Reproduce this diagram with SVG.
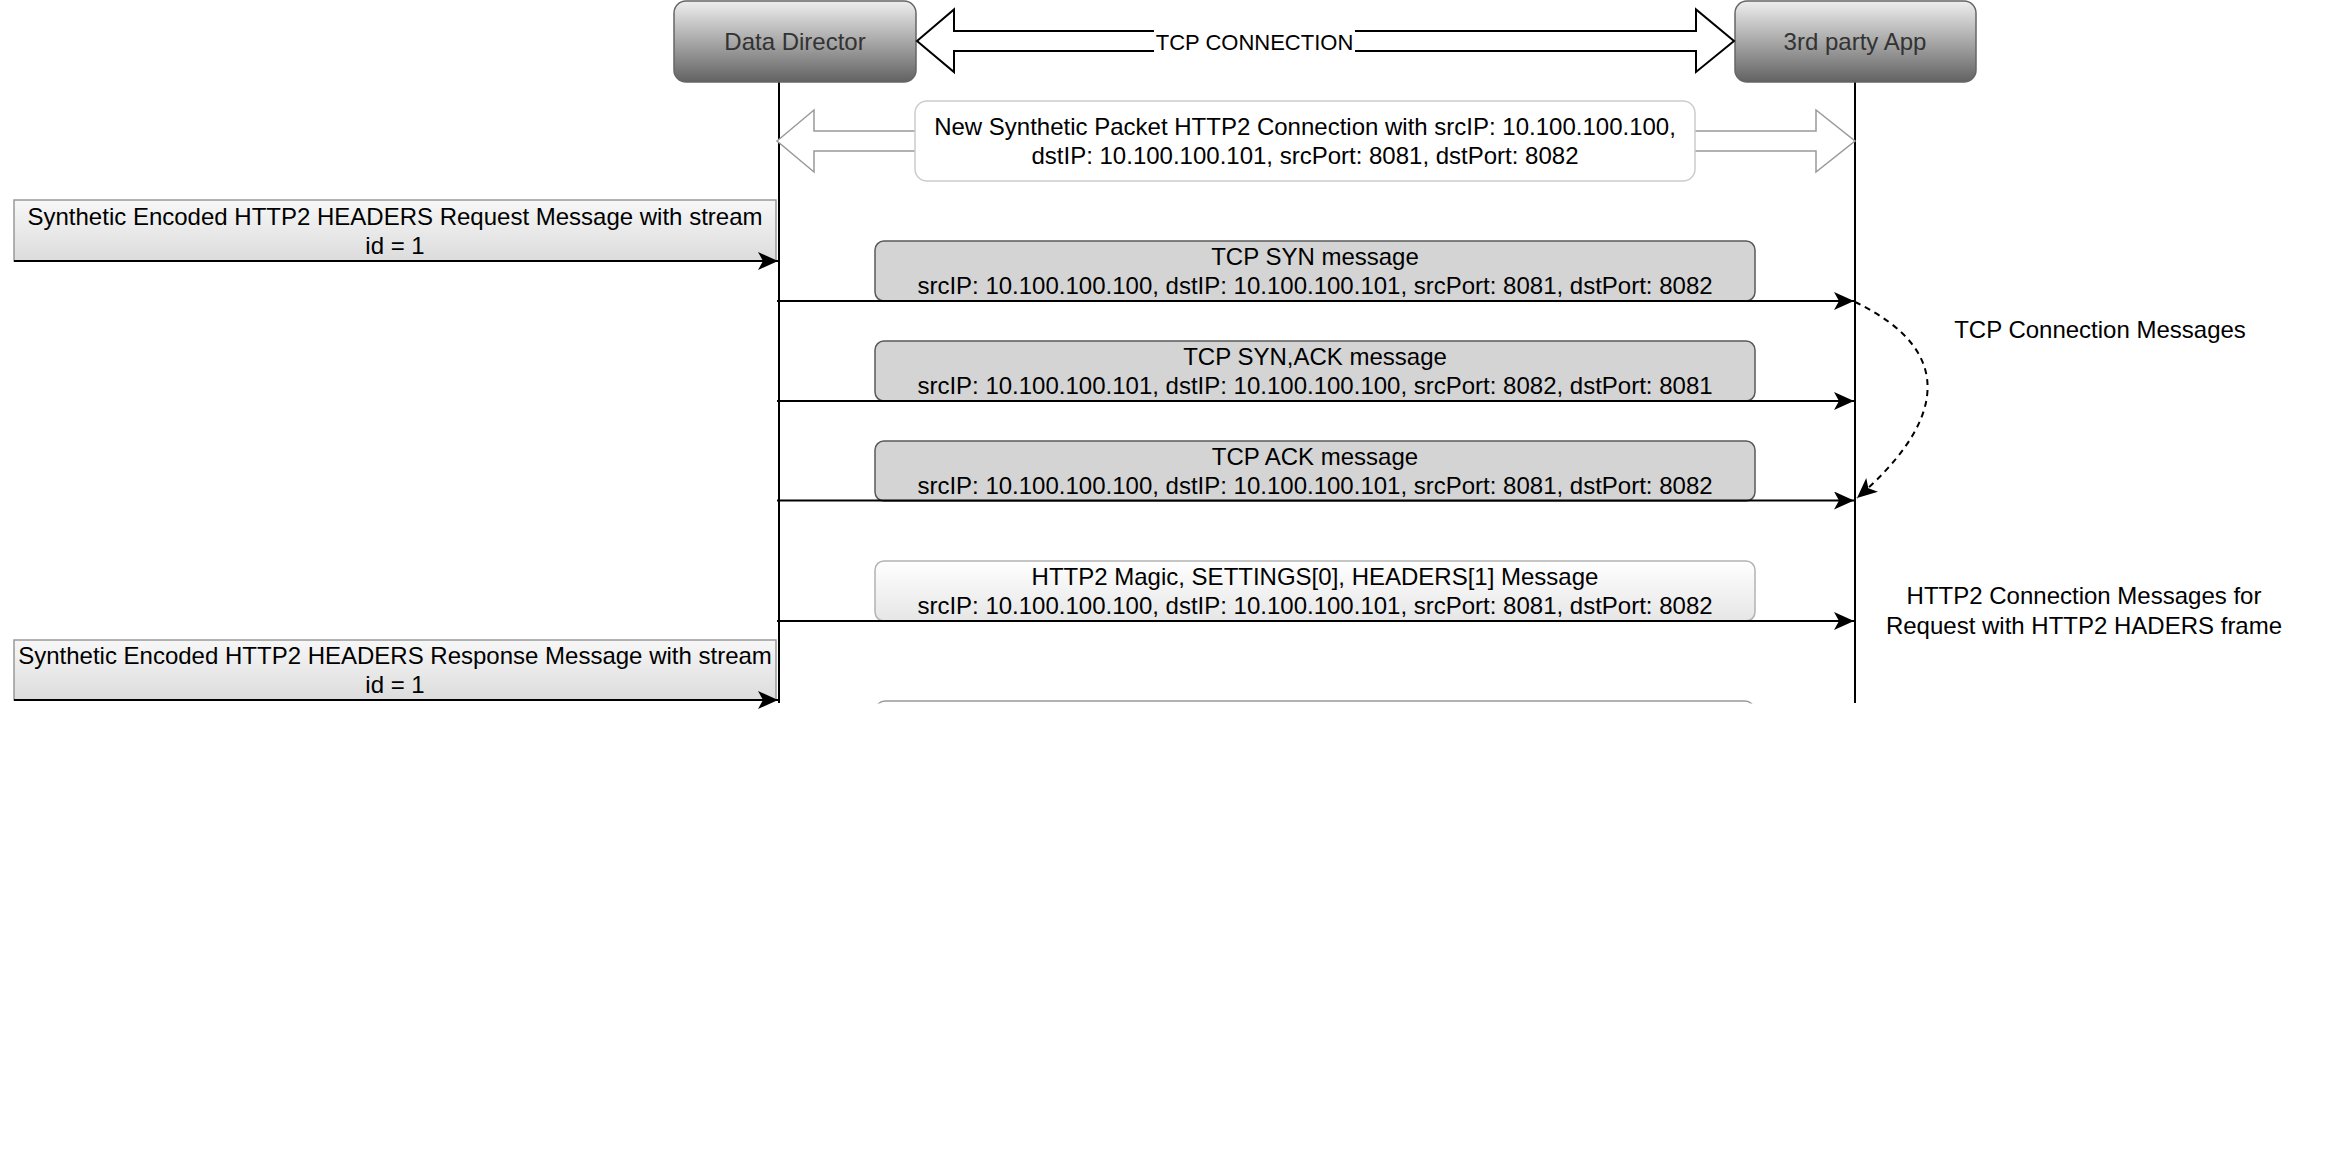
<svg xmlns="http://www.w3.org/2000/svg" width="2336" height="1170" viewBox="0 0 2336 1170">
<style>
text{font-family:"Liberation Sans",Arial,Helvetica,sans-serif;font-size:24px;fill:#000;text-anchor:middle}
.title{fill:#333}
.life{stroke:#000;stroke-width:2;fill:none}
.msg{stroke:#000;stroke-width:2;fill:none;marker-end:url(#arr)}
.tcp{fill:#d4d4d4;stroke:#595959;stroke-width:1.5}
.hollow{fill:#fff;stroke:#999;stroke-width:1.5}
</style>
<defs>
<linearGradient id="gDark" x1="0" y1="0" x2="0" y2="1">
<stop offset="0" stop-color="#eeeeee"/>
<stop offset="1" stop-color="#626262"/>
</linearGradient>
<linearGradient id="gLight" x1="0" y1="0" x2="0" y2="1">
<stop offset="0" stop-color="#f7f7f7"/>
<stop offset="1" stop-color="#dcdcdc"/>
</linearGradient>
<linearGradient id="gWhite" x1="0" y1="0" x2="0" y2="1">
<stop offset="0" stop-color="#ffffff"/>
<stop offset="1" stop-color="#e6e6e6"/>
</linearGradient>
<marker id="arr" viewBox="0 0 20 18" refX="20" refY="9" markerWidth="20" markerHeight="18" markerUnits="userSpaceOnUse" orient="auto">
<path d="M20,9 L0,0 L5,9 L0,18 Z" fill="#000"/>
</marker>
<clipPath id="cut"><rect x="0" y="0" width="2336" height="703.5"/></clipPath>
</defs>

<g id="lifelines">
<line class="life" x1="779" y1="82" x2="779" y2="703"/>
<line class="life" x1="1855" y1="82" x2="1855" y2="703"/>
</g>

<g id="data-director">
<rect x="674" y="1" width="242" height="81" rx="12" fill="url(#gDark)" stroke="#666" stroke-width="1.5"/>
<text class="title" x="795" y="49.5">Data Director</text>
</g>

<g id="third-party-app">
<rect x="1735" y="1" width="241" height="81" rx="12" fill="url(#gDark)" stroke="#666" stroke-width="1.5"/>
<text class="title" x="1855" y="49.5">3rd party App</text>
</g>

<g id="tcp-connection">
<path d="M917,41 L954,9.5 L954,31 L1696,31 L1696,9.5 L1734,41 L1696,72 L1696,51 L954,51 L954,72 Z" fill="#fff" stroke="#000" stroke-width="2"/>
<rect x="1154" y="28" width="201" height="26" fill="#fff"/>
<text x="1254.5" y="50" style="font-size:22px">TCP CONNECTION</text>
</g>

<g id="synthetic-connection">
<path class="hollow" d="M777,141 L814,110 L814,131 L916,131 L916,151 L814,151 L814,172 Z"/>
<path class="hollow" d="M1694,131 L1816,131 L1816,110 L1855,141 L1816,172 L1816,151 L1694,151 Z"/>
<rect x="915" y="101" width="780" height="80" rx="12" fill="#fff" stroke="#ccc" stroke-width="1.5"/>
<text x="1305" y="135">New Synthetic Packet HTTP2 Connection with srcIP: 10.100.100.100,</text>
<text x="1305" y="164">dstIP: 10.100.100.101, srcPort: 8081, dstPort: 8082</text>
</g>

<g id="request-message">
<rect x="14" y="200" width="762" height="61" fill="url(#gLight)" stroke="#999" stroke-width="1.5"/>
<text x="395" y="224.5">Synthetic Encoded HTTP2 HEADERS Request Message with stream</text>
<text x="395" y="253.5">id = 1</text>
</g>

<g id="tcp-syn">
<rect class="tcp" x="875" y="241" width="880" height="60" rx="9"/>
<text x="1315" y="265">TCP SYN message</text>
<text x="1315" y="294">srcIP: 10.100.100.100, dstIP: 10.100.100.101, srcPort: 8081, dstPort: 8082</text>
</g>

<g id="tcp-syn-ack">
<rect class="tcp" x="875" y="341" width="880" height="60" rx="9"/>
<text x="1315" y="365">TCP SYN,ACK message</text>
<text x="1315" y="394">srcIP: 10.100.100.101, dstIP: 10.100.100.100, srcPort: 8082, dstPort: 8081</text>
</g>

<g id="tcp-ack">
<rect class="tcp" x="875" y="441" width="880" height="60" rx="9"/>
<text x="1315" y="465">TCP ACK message</text>
<text x="1315" y="494">srcIP: 10.100.100.100, dstIP: 10.100.100.101, srcPort: 8081, dstPort: 8082</text>
</g>

<g id="http2-magic">
<rect x="875" y="561" width="880" height="60" rx="9" fill="url(#gWhite)" stroke="#b3b3b3" stroke-width="1.5"/>
<text x="1315" y="585">HTTP2 Magic, SETTINGS[0], HEADERS[1] Message</text>
<text x="1315" y="614">srcIP: 10.100.100.100, dstIP: 10.100.100.101, srcPort: 8081, dstPort: 8082</text>
</g>

<g id="response-message">
<rect x="14" y="640" width="762" height="60" fill="url(#gLight)" stroke="#999" stroke-width="1.5"/>
<text x="395" y="664">Synthetic Encoded HTTP2 HEADERS Response Message with stream</text>
<text x="395" y="693">id = 1</text>
</g>

<g id="next-message" clip-path="url(#cut)">
<rect x="876" y="701" width="878" height="60" rx="9" fill="url(#gWhite)" stroke="#999" stroke-width="1.5"/>
</g>

<g id="connectors">
<line class="msg" x1="14" y1="261" x2="778" y2="261"/>
<line class="msg" x1="14" y1="700" x2="778" y2="700"/>
<line class="msg" x1="777" y1="301" x2="1854" y2="301"/>
<line class="msg" x1="777" y1="401" x2="1854" y2="401"/>
<line class="msg" x1="777" y1="500.5" x2="1854" y2="500.5"/>
<line class="msg" x1="777" y1="621" x2="1854" y2="621"/>
<path d="M1855,302 C1965,355 1937,429 1857,498" fill="none" stroke="#000" stroke-width="2" stroke-dasharray="6 5" marker-end="url(#arr)"/>
</g>

<g id="labels">
<text x="2100" y="338">TCP Connection Messages</text>
<text x="2084" y="604">HTTP2 Connection Messages for</text>
<text x="2084" y="634">Request with HTTP2 HADERS frame</text>
</g>
</svg>
